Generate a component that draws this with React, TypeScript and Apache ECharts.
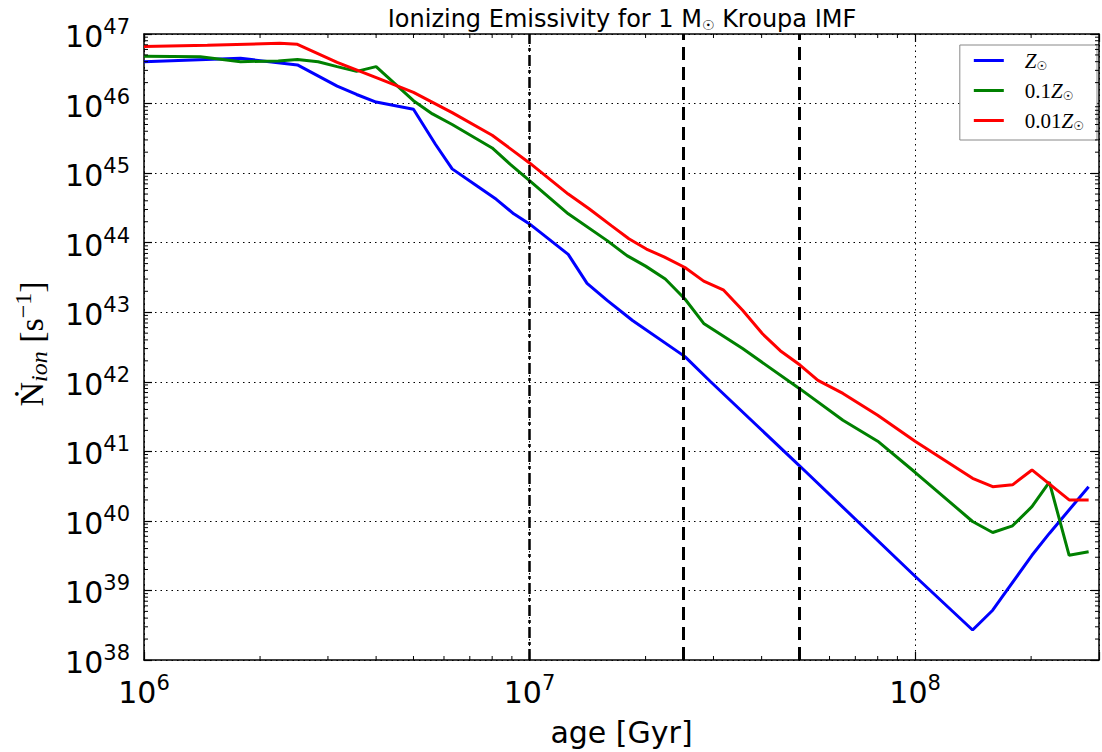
import React, { useEffect, useRef } from 'react';
import * as echarts from 'echarts';

// Age [yr] and ionizing photon rate [s^-1]
const ageSolar = [1e6, 1.78e6, 2.5e6, 3.17e6, 3.56e6, 4.0e6, 5.0e6, 5.7e6, 6.3e6, 7.2e6, 8.2e6, 9.1e6, 1.0e7, 1.26e7, 1.41e7, 1.59e7, 1.85e7, 2.53e7, 2.95e7, 5.0e7, 1.0e8, 1.41e8, 1.59e8, 1.73e8, 2.01e8, 2.23e8, 2.82e8];
const nSolar = [4.0e46, 4.47e46, 3.59e46, 1.78e46, 1.35e46, 1.05e46, 8.3e45, 2.6e45, 1.15e45, 6.9e44, 4.2e44, 2.6e44, 1.86e44, 6.8e43, 2.6e43, 1.48e43, 7.6e42, 2.3e42, 1.0e42, 6.3e40, 1.6e39, 2.7e38, 5.2e38, 1.0e39, 3.2e39, 6.6e39, 3.1e40];

const ageTenth = [1e6, 1.4e6, 1.78e6, 2.23e6, 2.5e6, 2.83e6, 3.17e6, 3.56e6, 4.0e6, 5.0e6, 5.6e6, 6.3e6, 8.0e6, 8.9e6, 1.0e7, 1.26e7, 1.59e7, 1.79e7, 2.0e7, 2.25e7, 2.53e7, 2.83e7, 3.57e7, 5.03e7, 6.5e7, 8.0e7, 1.0e8, 1.41e8, 1.59e8, 1.79e8, 2.01e8, 2.23e8, 2.51e8, 2.82e8];
const nTenth = [4.8e46, 4.7e46, 4.0e46, 4.1e46, 4.3e46, 4.0e46, 3.4e46, 2.9e46, 3.4e46, 1.1e46, 7.1e45, 5.0e45, 2.3e45, 1.35e45, 7.8e44, 2.6e44, 1.07e44, 6.5e43, 4.6e43, 3.0e43, 1.55e43, 6.9e42, 3.0e42, 7.9e41, 2.8e41, 1.4e41, 5.0e40, 9.8e39, 6.8e39, 8.5e39, 1.6e40, 3.6e40, 3.2e39, 3.6e39];

const ageHundredth = [1e6, 1.46e6, 2.25e6, 2.5e6, 3.17e6, 4.05e6, 5.0e6, 6.3e6, 8.0e6, 1.0e7, 1.26e7, 1.43e7, 1.63e7, 1.81e7, 2.01e7, 2.24e7, 2.53e7, 2.83e7, 3.18e7, 3.57e7, 4.02e7, 4.47e7, 5.03e7, 5.6e7, 6.5e7, 8.0e7, 1.0e8, 1.41e8, 1.59e8, 1.79e8, 2.01e8, 2.51e8, 2.82e8];
const nHundredth = [6.6e46, 6.9e46, 7.35e46, 7.1e46, 3.9e46, 2.3e46, 1.45e46, 7.4e45, 3.5e45, 1.4e45, 5.0e44, 3.05e44, 1.76e44, 1.14e44, 8.1e43, 6.2e43, 4.4e43, 2.8e43, 2.1e43, 1.07e43, 4.9e42, 2.8e42, 1.74e42, 1.05e42, 6.8e41, 3.3e41, 1.4e41, 4.1e40, 3.1e40, 3.3e40, 5.4e40, 2.0e40, 2.0e40];

const seriesNames = ['Z☉', '0.1Z☉', '0.01Z☉'];
const seriesColors = ['#0000ff', '#008000', '#ff0000'];

const xRange = [1e6, 3e8];
const yRange = [1e38, 1e47];
const xTickExponents = [6, 7, 8];
const yTickExponents = [38, 39, 40, 41, 42, 43, 44, 45, 46, 47];
const dashDotAges = [1e7];
const dashedAges = [2.5e7, 5e7];

const legendRichText: Record<string, string> = {
  'Z☉': '{it|Z}{sub|☉}',
  '0.1Z☉': '{r|0.1}{it|Z}{sub|☉}',
  '0.01Z☉': '{r|0.01}{it|Z}{sub|☉}',
};

const SANS = 'DejaVu Sans';
const SERIF = 'Liberation Serif';

function powLabel(v: number, exps: number[]) {
  const e = Math.round(Math.log10(v));
  if (Math.abs(Math.log10(v) - e) > 1e-6 || exps.indexOf(e) < 0) return '';
  return '{b|10}{s|' + e + '}';
}

export default function App() {
  const ref = useRef<HTMLDivElement>(null);
  useEffect(() => {
    if (!ref.current) return;
    const chart = echarts.init(ref.current, undefined, { renderer: 'svg' });

    const minorData: number[][] = [];
    for (const d of xTickExponents) {
      for (let m = 2; m <= 9; m++) {
        const v = m * Math.pow(10, d);
        if (v < xRange[1]) minorData.push([v, yRange[0], 0]);
      }
    }
    for (const d of yTickExponents) {
      for (let m = 2; m <= 9; m++) {
        const v = m * Math.pow(10, d);
        if (v < yRange[1]) minorData.push([xRange[0], v, 1]);
      }
    }

    const tickRich = {
      b: { fontFamily: SANS, fontSize: 30, color: '#000', lineHeight: 35, verticalAlign: 'bottom' },
      s: { fontFamily: SANS, fontSize: 21, color: '#000', lineHeight: 24, verticalAlign: 'top' },
    };

    const axisLineStyle = { color: '#000', width: 1.5 };
    const gridLineStyle = { color: '#000', width: 1, type: [1.5, 4] };

    const lineData = [
      ageSolar.map((a, i) => [a, nSolar[i]]),
      ageTenth.map((a, i) => [a, nTenth[i]]),
      ageHundredth.map((a, i) => [a, nHundredth[i]]),
    ];

    const markLineData = [
      ...dashDotAges.map((a) => ({ xAxis: a, lineStyle: { color: '#000', width: 2.5, type: [11, 4, 3, 4] } })),
      ...dashedAges.map((a) => ({ xAxis: a, lineStyle: { color: '#000', width: 3, type: [13, 7] } })),
    ];

    const option: any = {
      animation: false,
      backgroundColor: '#ffffff',
      title: {
        text: 'Ionizing Emissivity for 1 M{sub|☉} Kroupa IMF',
        left: 617,
        top: 0,
        textAlign: 'center',
        textStyle: {
          fontFamily: SANS,
          fontSize: 24,
          fontWeight: 'normal',
          color: '#000',
          lineHeight: 27,
          rich: {
            sub: { fontFamily: SANS, fontSize: 14, color: '#000', verticalAlign: 'bottom', lineHeight: 18 },
          },
        },
      },
      legend: {
        data: seriesNames,
        orient: 'vertical',
        right: 5,
        top: 45,
        icon: 'rect',
        itemWidth: 30,
        itemHeight: 3,
        itemGap: 8,
        backgroundColor: '#ffffff',
        borderColor: '#888888',
        borderWidth: 1,
        borderRadius: 0,
        padding: [5, 13, 8, 14],
        formatter: (name: string) => legendRichText[name] || name,
        textStyle: {
          color: '#000',
          padding: [0, 0, 0, 16],
          rich: {
            it: { fontFamily: SERIF, fontStyle: 'italic', fontSize: 21, lineHeight: 23, color: '#000' },
            r: { fontFamily: SERIF, fontSize: 21, lineHeight: 23, color: '#000' },
            sub: { fontFamily: 'DejaVu Sans', fontSize: 12, color: '#000', verticalAlign: 'bottom' },
          },
        },
      },
      grid: { left: 144, right: 3, top: 34, bottom: 92 },
      xAxis: [
        {
          type: 'log',
          logBase: 10,
          min: xRange[0],
          max: xRange[1],
          position: 'bottom',
          axisLine: { show: true, onZero: false, lineStyle: axisLineStyle },
          axisTick: { show: true, inside: true, length: 8, lineStyle: { color: '#000', width: 1.2 } },
          axisLabel: { show: true, margin: 12, formatter: (v: number) => powLabel(v, xTickExponents), rich: tickRich },
          splitLine: { show: true, lineStyle: gridLineStyle },
          minorTick: { show: false },
          name: 'age [Gyr]',
          nameLocation: 'middle',
          nameGap: 57,
          nameTextStyle: { fontFamily: SANS, fontSize: 30, color: '#000' },
        },
        {
          type: 'log',
          logBase: 10,
          min: xRange[0],
          max: xRange[1],
          position: 'top',
          axisLine: { show: true, onZero: false, lineStyle: axisLineStyle },
          axisTick: { show: true, inside: true, length: 8, lineStyle: { color: '#000', width: 1.2 } },
          axisLabel: { show: false },
          splitLine: { show: false },
        },
      ],
      yAxis: [
        {
          type: 'log',
          logBase: 10,
          min: yRange[0],
          max: yRange[1],
          position: 'left',
          axisLine: { show: true, onZero: false, lineStyle: axisLineStyle },
          axisTick: { show: true, inside: true, length: 8, lineStyle: { color: '#000', width: 1.2 } },
          axisLabel: { show: true, margin: 14, formatter: (v: number) => powLabel(v, yTickExponents), rich: tickRich },
          splitLine: { show: true, lineStyle: gridLineStyle },
          minorTick: { show: false },
        },
        {
          type: 'log',
          logBase: 10,
          min: yRange[0],
          max: yRange[1],
          position: 'right',
          axisLine: { show: true, onZero: false, lineStyle: axisLineStyle },
          axisTick: { show: true, inside: true, length: 8, lineStyle: { color: '#000', width: 1.2 } },
          axisLabel: { show: false },
          splitLine: { show: false },
        },
      ],
      graphic: [
        {
          type: 'text',
          x: 31,
          y: 344,
          rotation: Math.PI / 2,
          silent: true,
          style: {
            text: '{n|Ṅ}{sub|ion}{n| [s}{sup|−1}{n|]}',
            align: 'center',
            verticalAlign: 'middle',
            fill: '#000',
            rich: {
              n: { fontFamily: SERIF, fontSize: 34, lineHeight: 40, fill: '#000' },
              sub: { fontFamily: SERIF, fontStyle: 'italic', fontSize: 24, fill: '#000', verticalAlign: 'bottom' },
              sup: { fontFamily: SERIF, fontSize: 24, fill: '#000', verticalAlign: 'top' },
            },
          },
        },
      ],
      series: [
        ...seriesNames.map((name, i) => ({
          name,
          type: 'line',
          xAxisIndex: 0,
          yAxisIndex: 0,
          data: lineData[i],
          showSymbol: false,
          symbol: 'none',
          color: seriesColors[i],
          lineStyle: { color: seriesColors[i], width: 3 },
          z: 3 + i,
          markLine:
            i === 2
              ? { silent: true, symbol: 'none', label: { show: false }, data: markLineData, animation: false }
              : undefined,
        })),
        {
          type: 'custom',
          name: 'minorTicks',
          xAxisIndex: 0,
          yAxisIndex: 0,
          silent: true,
          z: 8,
          data: minorData,
          renderItem: (params: any, api: any) => {
            const kind = api.value(2);
            const st = { stroke: '#000', lineWidth: 1 };
            if (kind === 0) {
              const v = api.value(0);
              const pb = api.coord([v, yRange[0]]);
              const pt = api.coord([v, yRange[1]]);
              return {
                type: 'group',
                children: [
                  { type: 'line', shape: { x1: pb[0], y1: pb[1], x2: pb[0], y2: pb[1] - 4 }, style: st },
                  { type: 'line', shape: { x1: pt[0], y1: pt[1], x2: pt[0], y2: pt[1] + 4 }, style: st },
                ],
              };
            }
            const v = api.value(1);
            const pl = api.coord([xRange[0], v]);
            const pr = api.coord([xRange[1], v]);
            return {
              type: 'group',
              children: [
                { type: 'line', shape: { x1: pl[0], y1: pl[1], x2: pl[0] + 4, y2: pl[1] }, style: st },
                { type: 'line', shape: { x1: pr[0], y1: pr[1], x2: pr[0] - 4, y2: pr[1] }, style: st },
              ],
            };
          },
        },
      ],
    };

    chart.setOption(option);
    return () => chart.dispose();
  }, []);

  return <div ref={ref} style={{ position: 'fixed', left: 0, top: 0, width: 1102, height: 752, background: '#fff' }} />;
}
